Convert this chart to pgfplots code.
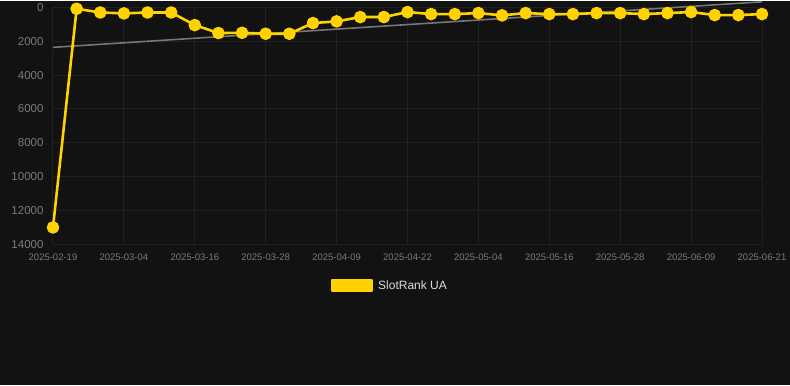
\documentclass[border=0pt]{standalone}
\usepackage{pgfplots}
\pgfplotsset{compat=1.18}
\usepackage{fontspec}
\setmainfont{Liberation Sans}
\definecolor{bg}{HTML}{121212}
\definecolor{gridc}{HTML}{202020}
\definecolor{tickc}{HTML}{7A7A7A}
\definecolor{gold}{HTML}{FFD200}
\definecolor{trend}{HTML}{767676}
\definecolor{legtext}{HTML}{DDDDDD}
\begin{document}
\begin{tikzpicture}[x=1pt,y=1pt]
\fill[bg] (-53,-141) rectangle (737,243);
\begin{axis}[
  at={(0,0)}, anchor=south west,
  scale only axis, width=709pt, height=237pt,
  xmin=0, xmax=30, ymin=0, ymax=14000,
  y dir=reverse,
  clip=false,
  axis line style={draw=none},
  tick style={draw=none},
  xtick={0,3,...,30},
  xticklabels={2025-02-19,2025-03-04,2025-03-16,2025-03-28,2025-04-09,2025-04-22,2025-05-04,2025-05-16,2025-05-28,2025-06-09,2025-06-21},
  ytick={0,2000,...,14000},
  scaled y ticks=false,
  /pgf/number format/assume math mode=true,
  /pgf/number format/1000 sep={},
  yticklabel style={font=\fontsize{11.5}{12}\selectfont, text=tickc, xshift=-6pt},
  xticklabel style={font=\fontsize{9.5}{10}\selectfont, text=tickc, yshift=-6pt},
  grid=major,
  major grid style={gridc, line width=1pt},
  legend style={at={(0.475,-0.173)}, anchor=center, fill=none, draw=none, text=legtext, font=\fontsize{12}{13}\selectfont},
  legend cell align=left,
]
\addplot[trend, line width=1.6pt, forget plot] coordinates {(0,2360) (30,-330)};
\addplot[gold, line width=2.6pt, line join=round, mark=*, mark size=5pt, mark options={fill=gold, draw=none},
  legend image code/.code={\fill[gold] (0pt,-5.5pt) rectangle (40pt,5.5pt); \path (43pt,0pt);}]
coordinates {
(0,13000) (1,80) (2,300) (3,354) (4,300) (5,300) (6,1045) (7,1515) (8,1500) (9,1555) (10,1555)
(11,925) (12,827) (13,570) (14,570) (15,275) (16,395) (17,395) (18,335) (19,472) (20,335)
(21,395) (22,395) (23,335) (24,335) (25,395) (26,335) (27,275) (28,453) (29,453) (30,395)
};
\addlegendentry{SlotRank UA}
\end{axis}
\end{tikzpicture}
\end{document}
